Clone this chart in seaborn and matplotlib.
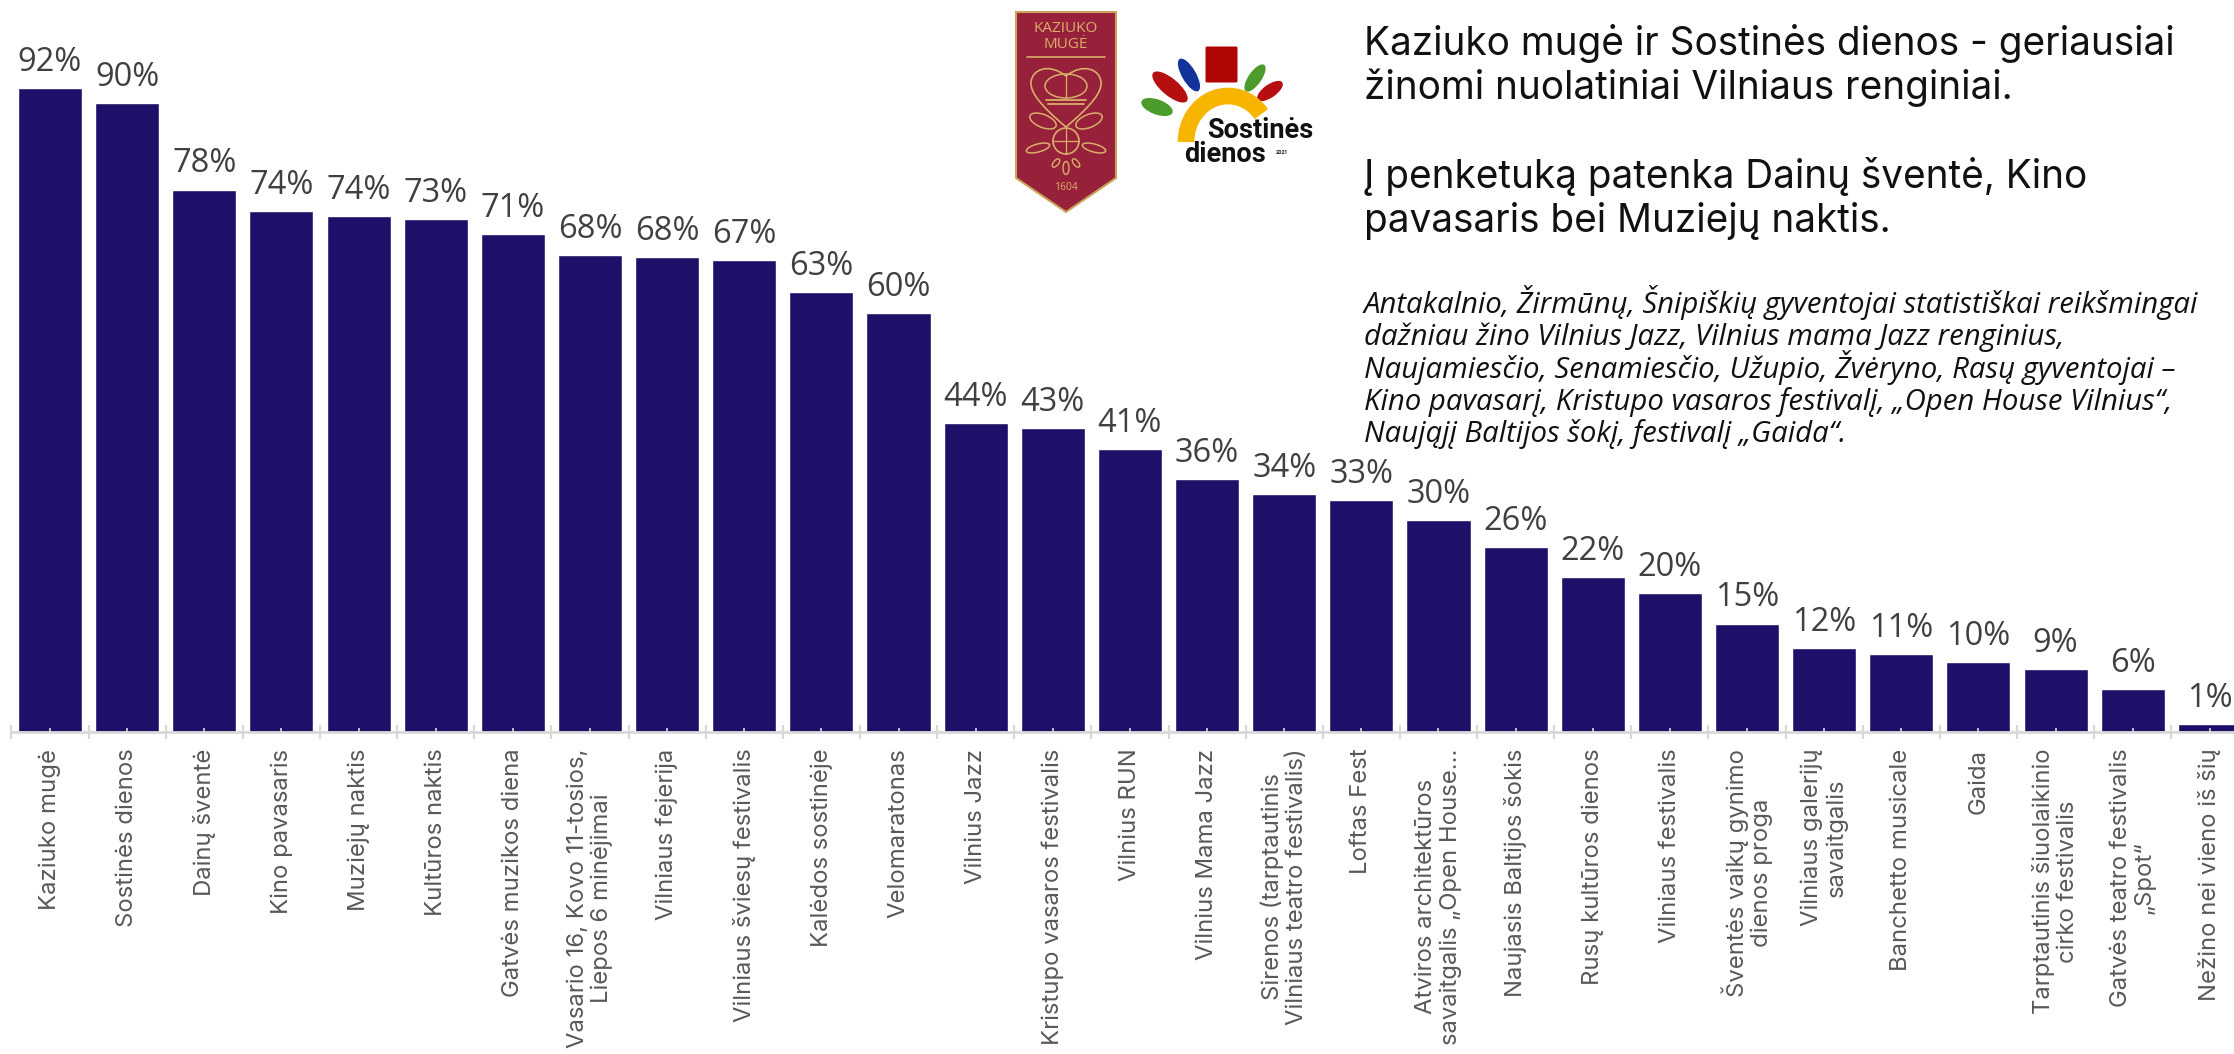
import numpy as np
import pandas as pd
from matplotlib import pyplot as plt
from matplotlib import patches
from matplotlib.path import Path
import seaborn as sns

# Bar names, \n is where the original label wraps
EVENTS = [
    "Kaziuko mugė", "Sostinės dienos", "Dainų šventė", "Kino pavasaris",
    "Muziejų naktis", "Kultūros naktis", "Gatvės muzikos diena",
    "Vasario 16, Kovo 11-tosios,\nLiepos 6 minėjimai", "Vilniaus fejerija",
    "Vilniaus šviesų festivalis", "Kalėdos sostinėje", "Velomaratonas",
    "Vilnius Jazz", "Kristupo vasaros festivalis", "Vilnius RUN",
    "Vilnius Mama Jazz", "Sirenos (tarptautinis\nVilniaus teatro festivalis)",
    "Loftas Fest", "Atviros architektūros\nsavaitgalis „Open House...",
    "Naujasis Baltijos šokis", "Rusų kultūros dienos", "Vilniaus festivalis",
    "Šventės vaikų gynimo\ndienos proga", "Vilniaus galerijų\nsavaitgalis",
    "Banchetto musicale", "Gaida", "Tarptautinis šiuolaikinio\ncirko festivalis",
    "Gatvės teatro festivalis\n„Spot“", "Nežino nei vieno iš šių",
]
LABELS = [92, 90, 78, 74, 74, 73, 71, 68, 68, 67, 63, 60, 44, 43, 41, 36, 34, 33,
          30, 26, 22, 20, 15, 12, 11, 10, 9, 6, 1]
# Heights, a bit finer than the rounded labels
HEIGHTS = [92.0, 89.8, 77.5, 74.5, 73.7, 73.3, 71.2, 68.2, 67.8, 67.4, 62.9, 59.8, 44.2,
           43.4, 40.5, 36.2, 34.0, 33.2, 30.3, 26.5, 22.2, 19.9, 15.5, 12.0, 11.2, 10.0,
           9.0, 6.1, 1.2]

TITLE = ["Kaziuko mugė ir Sostinės dienos - geriausiai", "žinomi nuolatiniai Vilniaus renginiai."]
TITLE2 = ["Į penketuką patenka Dainų šventė, Kino", "pavasaris bei Muziejų naktis."]
NOTE = [
    "Antakalnio, Žirmūnų, Šnipiškių gyventojai statistiškai reikšmingai",
    "dažniau žino Vilnius Jazz, Vilnius mama Jazz renginius,",
    "Naujamiesčio, Senamiesčio, Užupio, Žvėryno, Rasų gyventojai –",
    "Kino pavasarį, Kristupo vasaros festivalį, „Open House Vilnius“,",
    "Naująjį Baltijos šokį, festivalį „Gaida“.",
]

W, H = 2234, 1054
BASE_Y = 732
TOP_Y = 88


def main():
    sns.set_theme(style="white")
    plt.rcParams["font.family"] = ["Inter", "DejaVu Sans"]

    fig = plt.figure(figsize=(W / 100, H / 100), dpi=100, facecolor="white")

    # Axes run a little past the right edge in the original, so crop x limits
    left = 11.4
    step = 77.14
    ax = fig.add_axes([left / W, 1 - BASE_Y / H, (W - left) / W, (BASE_Y - TOP_Y) / H])
    df = pd.DataFrame({"event": EVENTS, "share": HEIGHTS})
    sns.barplot(data=df, x="event", y="share", color="#1e0f69", saturation=1, width=0.83, ax=ax)
    ax.set_xlim(-0.5, (W - left) / step - 0.5)
    ax.set_ylim(0, 92)
    ax.set(xlabel=None, ylabel=None)
    ax.set_yticks([])
    ax.set_axisbelow(False)
    for side in ["top", "left", "right"]:
        ax.spines[side].set_visible(False)
    ax.spines["bottom"].set_color("#d9d9d9")
    ax.spines["bottom"].set_linewidth(2)

    for i, (h, lab) in enumerate(zip(HEIGHTS, LABELS)):
        ax.annotate(f"{lab}%", (i, h), xytext=(0, 17), textcoords="offset pixels", ha="center",
                    va="baseline", fontsize=23.5, family="Open Sans", color="#404040",
                    annotation_clip=False)

    # Rotated labels hang from the top, multi line ones centered on the tick
    ax.set_xticks(range(len(EVENTS)))
    ax.set_xticklabels(EVENTS, rotation=90, ha="center", va="top", fontsize=17.2,
                       color="#595959", linespacing=1.1, multialignment="center")
    ax.tick_params(axis="x", which="major", bottom=True, length=3, width=1.2, color="#d9d9d9",
                   direction="in", pad=12)
    ax.set_xticks(np.arange(-0.5, 28.4, 1), minor=True)
    ax.tick_params(axis="x", which="minor", bottom=True, length=10, width=1.6, color="#d9d9d9",
                   direction="inout")

    # One text per line, matplotlib spaces lines unevenly when glyphs have tall accents
    draw_lines(fig, TITLE, 55, 44, fontsize=27.9, color="#111111")
    draw_lines(fig, TITLE2, 188, 44, fontsize=27.9, color="#111111")
    draw_lines(fig, NOTE, 313, 32.3, fontsize=21.2, style="italic", family="Open Sans", color="#111111")

    draw_logos(fig)
    fig.savefig("out.png", dpi=100, facecolor="white")
    plt.close(fig)


def draw_lines(fig, lines, first_y, dy, **kwargs):
    for i, line in enumerate(lines):
        fig.text(1364 / W, 1 - (first_y + i * dy) / H, line, va="baseline", **kwargs)


def draw_logos(fig):
    # Full figure overlay in pixel coords, just for the two logos
    la = fig.add_axes([0, 0, 1, 1], facecolor="none")
    la.set_xlim(0, W)
    la.set_ylim(H, 0)
    la.axis("off")

    # Kaziuko muge shield
    shield = [(1016, 12), (1116, 12), (1116, 178), (1066, 212), (1016, 178)]
    la.add_patch(patches.Polygon(shield, closed=True, fc="#97203a", ec="#c9a45c", lw=1.5))
    gold = "#d9ae6a"
    la.text(1066, 28, "KAZIUKO", color=gold, fontsize=11, ha="center", va="center", family="Open Sans")
    la.text(1066, 44, "MUGĖ", color=gold, fontsize=11, ha="center", va="center", family="Open Sans")
    la.plot([1027, 1105], [57, 57], color=gold, lw=1.2)

    heart = Path(
        [(1066, 127), (1040, 105), (1030, 92), (1031, 82), (1032, 70), (1048, 62), (1066, 76),
         (1084, 62), (1100, 70), (1101, 82), (1102, 92), (1092, 105), (1066, 127)],
        [Path.MOVETO] + [Path.CURVE4] * 12,
    )
    la.add_patch(patches.PathPatch(heart, fc="none", ec=gold, lw=1.2))
    # crown
    la.add_patch(patches.Ellipse((1066, 86), 42, 24, fc="none", ec=gold, lw=1.1))
    la.plot([1066, 1066], [74, 98], color=gold, lw=0.9)
    la.plot([1046, 1086], [100, 100], color=gold, lw=1.3)
    la.plot([1048, 1084], [104, 104], color=gold, lw=1.3)
    # wheel
    la.add_patch(patches.Circle((1066, 141), 13, fc="none", ec=gold, lw=1.2))
    la.plot([1053, 1079], [141, 141], color=gold, lw=0.9)
    la.plot([1066, 1066], [128, 154], color=gold, lw=0.9)
    # leaves
    la.add_patch(patches.Ellipse((1043, 121), 28, 13, angle=22, fc="none", ec=gold, lw=1.1))
    la.add_patch(patches.Ellipse((1089, 121), 28, 13, angle=-22, fc="none", ec=gold, lw=1.1))
    la.add_patch(patches.Ellipse((1038, 148), 24, 8, angle=-15, fc="none", ec=gold, lw=1.1))
    la.add_patch(patches.Ellipse((1094, 148), 24, 8, angle=15, fc="none", ec=gold, lw=1.1))
    la.add_patch(patches.Ellipse((1066, 168), 6, 13, fc="none", ec=gold, lw=1))
    la.add_patch(patches.Ellipse((1056, 163), 5, 10, angle=40, fc="none", ec=gold, lw=1))
    la.add_patch(patches.Ellipse((1076, 163), 5, 10, angle=-40, fc="none", ec=gold, lw=1))
    la.text(1066, 188, "1604", color=gold, fontsize=7.5, ha="center", va="center", family="Open Sans")

    # Sostines dienos mark
    la.add_patch(patches.FancyBboxPatch((1207, 48), 29, 33, boxstyle="round,pad=1.5", fc="#b00505", ec="none"))
    la.add_patch(patches.Ellipse((1189, 75), 37, 14, angle=60, fc="#12349a", ec="none"))
    la.add_patch(patches.Ellipse((1170, 87), 44, 17, angle=40, fc="#b50f12", ec="none"))
    la.add_patch(patches.Ellipse((1157, 107), 33, 15, angle=20, fc="#4b9c2a", ec="none"))
    la.add_patch(patches.Ellipse((1255, 78), 32, 13, angle=-55, fc="#4b9c2a", ec="none"))
    la.add_patch(patches.Ellipse((1270, 91), 30, 13, angle=-35, fc="#b50f12", ec="none"))
    la.add_patch(patches.Arc((1228, 142), 84, 92, theta1=180, theta2=320, color="#f7b500", lw=12))
    la.text(1260, 131, "Sostinės", fontsize=19.5, weight="bold", family="Roboto", color="#111111",
            ha="center", va="center")
    la.text(1225, 154, "dienos", fontsize=19.5, weight="bold", family="Roboto", color="#111111",
            ha="center", va="center")
    la.text(1282, 152, "2021", fontsize=3.5, weight="bold", color="#111111", ha="center", va="center")


if __name__ == "__main__":
    main()
